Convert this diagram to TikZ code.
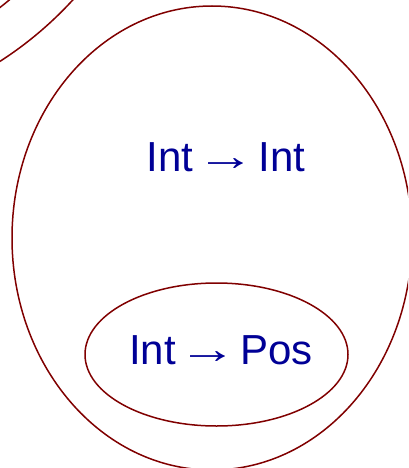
\documentclass[tikz,border=0pt]{standalone}
\usepackage{fontspec}
\setmainfont{Liberation Sans}
\newfontfamily\arrowfont{Liberation Serif}
\definecolor{ringred}{RGB}{128,0,0}
\definecolor{typeblue}{RGB}{0,0,150}
\newcommand{\typearrow}{\hspace{0.07em}\raisebox{1pt}{\scalebox{1.4}[1.0]{\arrowfont →}}\hspace{0.07em}}
\begin{document}
\begin{tikzpicture}[x=1pt,y=-1pt,
  ring/.style={draw=ringred,line width=1.5pt},
  typelabel/.style={text=typeblue,font=\fontsize{42}{50}\selectfont,inner sep=0pt,anchor=base}]
\useasboundingbox (0,0) rectangle (408,468);
\begin{scope}
\clip (0,0) rectangle (408,468);
\draw[ring] (-200,-250) circle[radius=370];
\draw[ring] (-200,-250) circle[radius=326];
\draw[ring] (212,238) ellipse[x radius=200,y radius=232];
\draw[ring] (216.5,354.5) ellipse[x radius=131.5,y radius=71.5];
\end{scope}
\node[typelabel] (outer) at (226,171) {Int\typearrow Int};
\node[typelabel] (inner) at (221,364) {Int\typearrow Pos};
\end{tikzpicture}
\end{document}
